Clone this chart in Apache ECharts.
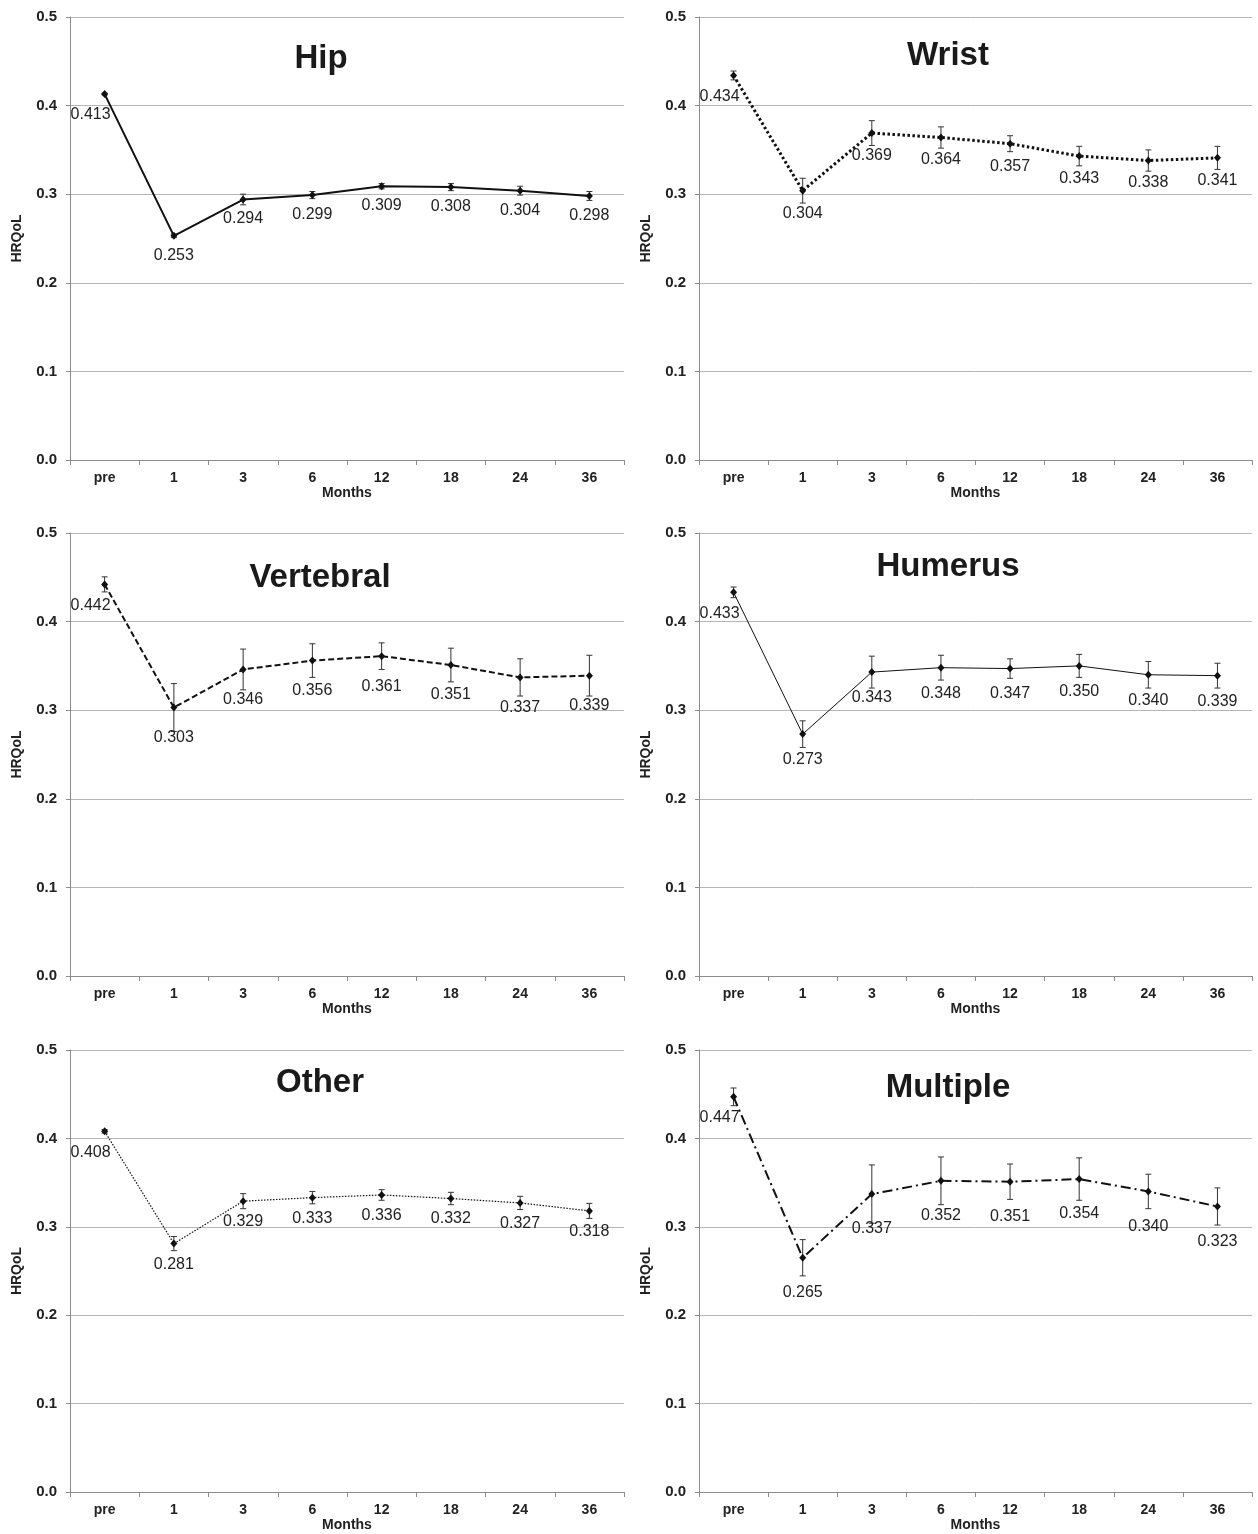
<!DOCTYPE html>
<html>
<head>
<meta charset="utf-8">
<script src="https://cdn.jsdelivr.net/npm/echarts@6/dist/echarts.min.js"></script>
<style>
html,body{margin:0;padding:0;background:#fff;}
#chart{width:1258px;height:1534px;}
</style>
</head>
<body>
<div id="chart"></div>
<script>
// ---- data ----
const categories = ['pre', '1', '3', '6', '12', '18', '24', '36'];
const yTickValues = [0.0, 0.1, 0.2, 0.3, 0.4, 0.5];
const panelNames = ['Hip', 'Wrist', 'Vertebral', 'Humerus', 'Other', 'Multiple'];

const hipMean       = [0.413, 0.253, 0.294, 0.299, 0.309, 0.308, 0.304, 0.298];
const hipErr        = [0.001, 0.002, 0.006, 0.004, 0.003, 0.004, 0.005, 0.005];
const wristMean     = [0.434, 0.304, 0.369, 0.364, 0.357, 0.343, 0.338, 0.341];
const wristErr      = [0.005, 0.014, 0.014, 0.012, 0.009, 0.011, 0.012, 0.013];
const vertebralMean = [0.442, 0.303, 0.346, 0.356, 0.361, 0.351, 0.337, 0.339];
const vertebralErr  = [0.0085, 0.027, 0.023, 0.019, 0.015, 0.019, 0.021, 0.023];
const humerusMean   = [0.433, 0.273, 0.343, 0.348, 0.347, 0.350, 0.340, 0.339];
const humerusErr    = [0.006, 0.015, 0.018, 0.014, 0.011, 0.013, 0.015, 0.014];
const otherMean     = [0.408, 0.281, 0.329, 0.333, 0.336, 0.332, 0.327, 0.318];
const otherErr      = [0.002, 0.008, 0.0085, 0.007, 0.006, 0.007, 0.0075, 0.0085];
const multipleMean  = [0.447, 0.265, 0.337, 0.352, 0.351, 0.354, 0.340, 0.323];
const multipleErr   = [0.010, 0.0205, 0.033, 0.027, 0.020, 0.024, 0.0195, 0.021];

const panelMeans = [hipMean, wristMean, vertebralMean, humerusMean, otherMean, multipleMean];
const panelErrs  = [hipErr, wristErr, vertebralErr, humerusErr, otherErr, multipleErr];

// ---- layout / style ----
const FONT = '"Liberation Sans", Arial, Helvetica, sans-serif';
const gridBoxes = [
  {left: 70,  top: 17,   width: 554, height: 443},
  {left: 699, top: 17,   width: 553, height: 443},
  {left: 70,  top: 533,  width: 554, height: 443},
  {left: 699, top: 533,  width: 553, height: 443},
  {left: 70,  top: 1050, width: 554, height: 442},
  {left: 699, top: 1050, width: 553, height: 442}
];
const titlePos = [[321, 59], [948, 56], [320, 578], [948, 567], [320, 1083], [948, 1088]];
const lineStyles = [
  {type: 'solid', width: 2},
  {type: [2.5, 2.5], width: 3},
  {type: [6, 3], width: 2},
  {type: 'solid', width: 1},
  {type: [1.5, 1.5], width: 1.2},
  {type: [10, 4, 2, 4], width: 2}
];
const labelDist = [7.5, 10.5, 18, 13.5, 8.5, 23];
const preLabelDist = 9;

const grid = [], xAxis = [], yAxis = [], series = [], graphic = [];

gridBoxes.forEach(function (g, p) {
  grid.push({left: g.left, top: g.top, width: g.width, height: g.height, containLabel: false});
  xAxis.push({
    type: 'category', gridIndex: p, data: categories, boundaryGap: true,
    name: 'Months', nameLocation: 'middle', nameGap: 26,
    nameTextStyle: {fontFamily: FONT, fontWeight: 'bold', fontSize: 14, color: '#222'},
    axisLine: {lineStyle: {color: '#8c8c8c', width: 1}},
    axisTick: {show: true, length: 5, lineStyle: {color: '#8c8c8c'}},
    axisLabel: {fontFamily: FONT, fontWeight: 'bold', fontSize: 14, color: '#222', margin: 11},
    splitLine: {show: false}
  });
  yAxis.push({
    type: 'value', gridIndex: p, min: yTickValues[0], max: yTickValues[yTickValues.length - 1], interval: 0.1,
    name: 'HRQoL', nameLocation: 'middle', nameGap: 46, nameRotate: 90,
    nameTextStyle: {fontFamily: FONT, fontWeight: 'bold', fontSize: 14, color: '#222'},
    axisLine: {show: true, lineStyle: {color: '#8c8c8c', width: 1}},
    axisTick: {show: true, length: 4, lineStyle: {color: '#8c8c8c'}},
    axisLabel: {fontFamily: FONT, fontWeight: 'bold', fontSize: 15, color: '#222', margin: 13,
      formatter: function (v) { return v.toFixed(1); }},
    splitLine: {show: true, lineStyle: {color: '#b5b5b5', width: 1}}
  });

  const means = panelMeans[p], errs = panelErrs[p];
  // error bars
  series.push({
    type: 'custom', xAxisIndex: p, yAxisIndex: p, z: 2,
    data: means.map(function (m, i) { return [i, m - errs[i], m + errs[i]]; }),
    encode: {x: 0, y: [1, 2]},
    renderItem: function (params, api) {
      const i = api.value(0);
      const lo = api.coord([i, api.value(1)]);
      const hi = api.coord([i, api.value(2)]);
      const cap = 3;
      const st = {stroke: '#333', lineWidth: 1};
      return {type: 'group', children: [
        {type: 'line', shape: {x1: lo[0], y1: lo[1], x2: hi[0], y2: hi[1]}, style: st},
        {type: 'line', shape: {x1: lo[0] - cap, y1: lo[1], x2: lo[0] + cap, y2: lo[1]}, style: st},
        {type: 'line', shape: {x1: hi[0] - cap, y1: hi[1], x2: hi[0] + cap, y2: hi[1]}, style: st}
      ]};
    }
  });
  // line
  series.push({
    type: 'line', xAxisIndex: p, yAxisIndex: p, z: 3,
    data: means.map(function (m, i) {
      const d = {value: m};
      if (i === 0) d.label = {offset: [-14, 0], distance: preLabelDist};
      return d;
    }),
    symbol: 'diamond', symbolSize: [7, 8], showAllSymbol: true,
    itemStyle: {color: '#111'},
    lineStyle: Object.assign({color: '#111'}, lineStyles[p]),
    label: {show: true, position: 'bottom', distance: labelDist[p],
      fontFamily: FONT, fontSize: 16, color: '#222',
      formatter: function (o) { return o.value.toFixed(3); }},
    animation: false
  });
  graphic.push({
    type: 'text', x: titlePos[p][0], y: titlePos[p][1],
    style: {text: panelNames[p], fontFamily: FONT, fontWeight: 'bold', fontSize: 33,
      fill: '#1a1a1a', textAlign: 'center', textVerticalAlign: 'middle'}
  });
});

const chart = echarts.init(document.getElementById('chart'));
chart.setOption({
  animation: false,
  backgroundColor: '#fff',
  grid: grid, xAxis: xAxis, yAxis: yAxis, series: series, graphic: graphic
});
</script>
</body>
</html>
